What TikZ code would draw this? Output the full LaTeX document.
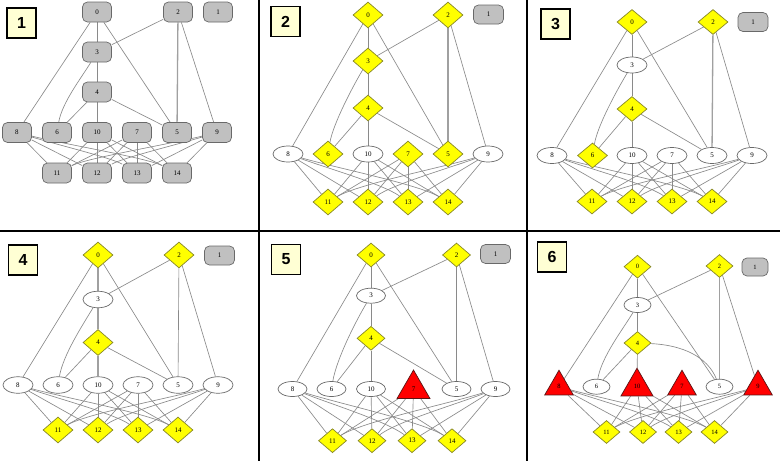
\documentclass[tikz,border=0pt]{standalone}
\usepackage{fontspec}
\setmainfont{Liberation Serif}
\newfontfamily\lsans{Liberation Sans}
\usetikzlibrary{shapes.geometric}
\pgfdeclarelayer{back}
\pgfdeclarelayer{bg}
\pgfsetlayers{back,bg,main}
\definecolor{ngray}{RGB}{192,192,192}
\definecolor{ngrayb}{RGB}{105,105,105}
\definecolor{nyel}{RGB}{255,255,0}
\definecolor{nyelb}{RGB}{135,135,40}
\definecolor{ecol}{RGB}{138,138,138}
\definecolor{ecolt}{RGB}{160,160,160}
\definecolor{lblfill}{RGB}{255,255,212}
\definecolor{nred}{RGB}{255,0,0}
\definecolor{nredb}{RGB}{90,20,20}
\newcommand\gfont{\fontsize{7}{8}\selectfont}
\newcommand\boxfont{\lsans\bfseries\fontsize{16}{18}\selectfont}
\newcommand\gn[5]{\node[#1] (#2-#3) at (#4,#5) {#3};}
\newcommand\gedges[1]{%
\begin{pgfonlayer}{bg}
\draw[edge,e03] (#1-0) -- (#1-3);
\draw[edge] (#1-0) -- (#1-8);
\draw[edge] (#1-0) -- (#1-5);
\draw[edge] (#1-2) -- (#1-3);
\draw[edge,e25] (#1-2) -- (#1-5);
\draw[edge] (#1-2) -- (#1-9);
\draw[edge] (#1-3) .. controls +(-15,25) and +(5,-30) .. (#1-6);
\draw[edge,e03] (#1-3) -- (#1-4);
\draw[edge] (#1-4) -- (#1-6);
\draw[edge,e03] (#1-4) -- (#1-10);
\foreach \t in {11,12,13,14}{%
  \draw[edge] (#1-10) -- (#1-\t);
  \draw[edge] (#1-7) -- (#1-\t);}
\draw[edge] (#1-8) -- (#1-11);
\draw[edge] (#1-8) -- (#1-12);
\draw[edge] (#1-9) -- (#1-13);
\draw[edge] (#1-9) -- (#1-14);
\draw[edge] (#1-8) .. controls +(50,{0.3*\pVG}) and +(-30,{-0.37*\pVG}) .. (#1-14);
\draw[edge] (#1-8) .. controls +(40,{0.3*\pVG}) and +(-25,{-0.37*\pVG}) .. (#1-13);
\draw[edge] (#1-9) .. controls +(-50,{0.3*\pVG}) and +(30,{-0.37*\pVG}) .. (#1-11);
\draw[edge] (#1-9) .. controls +(-40,{0.3*\pVG}) and +(25,{-0.37*\pVG}) .. (#1-12);
\end{pgfonlayer}}
\begin{document}
\begin{tikzpicture}[x=1pt,y=-1pt,
  gnode/.style={rectangle, rounded corners=5, fill=ngray, draw=ngrayb, line width=0.7,
    minimum width=\pGW, minimum height=\pGH, inner sep=0pt, font=\gfont},
  dnode/.style={diamond, fill=nyel, draw=nyelb, line width=0.7,
    minimum width=\pDW, minimum height=\pDH, inner sep=0pt, font=\gfont},
  enode/.style={ellipse, fill=white, draw=ngrayb, line width=0.7,
    minimum width=\pEW, minimum height=\pEH, inner sep=0pt, font=\gfont},
  tnode/.style={regular polygon, regular polygon sides=3, fill=nred, draw=nredb, line width=0.7,
    minimum size=\pTS, inner sep=0pt, font=\gfont},
  lblbox/.style={rectangle, fill=lblfill, draw=black, line width=1.5,
    minimum width=29, minimum height=30, inner sep=0pt, font=\boxfont},
  edge/.style={draw=ecol, line width=0.65},
  thk/.style={draw=ecolt, line width=1.3},
  e25/.style={thk},
  e03/.style={}]
\begin{pgfonlayer}{back}
\fill[white] (0,0) rectangle (780,461);
\end{pgfonlayer}
\useasboundingbox (0,0) rectangle (780,461);
% ---------------- panel 1
\def\pGW{29}\def\pGH{20}\def\pVG{40.5}
\node[lblbox] (a-L) at (21.5,23) {1};
\gn{gnode}{a}{0}{97}{12}
\gn{gnode}{a}{2}{178}{12}
\gn{gnode}{a}{1}{218}{12}
\gn{gnode}{a}{3}{97}{52}
\gn{gnode}{a}{4}{97}{92}
\gn{gnode}{a}{8}{17}{132.5}
\gn{gnode}{a}{6}{57}{132.5}
\gn{gnode}{a}{10}{97}{132.5}
\gn{gnode}{a}{7}{137}{132.5}
\gn{gnode}{a}{5}{177}{132.5}
\gn{gnode}{a}{9}{217}{132.5}
\gn{gnode}{a}{11}{57}{173}
\gn{gnode}{a}{12}{97}{173}
\gn{gnode}{a}{13}{137}{173}
\gn{gnode}{a}{14}{177}{173}
\gedges{a}
\draw[edge] (a-4) -- (a-5);
% ---------------- panel 2
\def\pGW{30}\def\pGH{19}\def\pDW{30}\def\pDH{26}\def\pEW{30}\def\pEH{16}\def\pVG{48}
\node[lblbox] (b-L) at (285.5,21.5) {2};
\gn{dnode}{b}{0}{368}{15}
\gn{dnode}{b}{2}{448}{15}
\gn{gnode}{b}{1}{488.5}{14.5}
\gn{dnode}{b}{3}{368}{61}
\gn{dnode}{b}{4}{368}{108}
\gn{enode}{b}{8}{288}{154}
\gn{dnode}{b}{6}{328}{154}
\gn{enode}{b}{10}{368}{154}
\gn{dnode}{b}{7}{408}{154}
\gn{dnode}{b}{5}{448}{154}
\gn{enode}{b}{9}{488}{154}
\gn{dnode}{b}{11}{328}{202}
\gn{dnode}{b}{12}{368}{202}
\gn{dnode}{b}{13}{408}{202}
\gn{dnode}{b}{14}{448}{202}
\gedges{b}
\draw[edge] (b-4) -- (b-5);
% ---------------- panel 3
\def\pDH{25}\def\pVG{46}
\node[lblbox] (c-L) at (555.5,24) {3};
\gn{dnode}{c}{0}{632}{22}
\gn{dnode}{c}{2}{713}{22}
\gn{gnode}{c}{1}{753}{22}
\gn{enode}{c}{3}{632}{65}
\gn{dnode}{c}{4}{632}{109}
\gn{enode}{c}{8}{552}{155.5}
\gn{dnode}{c}{6}{592.5}{155.5}
\gn{enode}{c}{10}{632}{155.5}
\gn{enode}{c}{7}{672}{155.5}
\gn{enode}{c}{5}{712}{155.5}
\gn{enode}{c}{9}{752}{155.5}
\gn{dnode}{c}{11}{592}{201.5}
\gn{dnode}{c}{12}{632}{201.5}
\gn{dnode}{c}{13}{672}{201.5}
\gn{dnode}{c}{14}{712}{201.5}
\gedges{c}
\draw[edge] (c-4) -- (c-5);
% ---------------- panel 4
\def\pDH{26}\def\pEH{16.5}\def\pVG{45}
\tikzset{e25/.style={}, e03/.style={thk}}
\node[lblbox] (d-L) at (23,260) {4};
\gn{dnode}{d}{0}{98}{255}
\gn{dnode}{d}{2}{179}{255}
\gn{gnode}{d}{1}{219.5}{255.5}
\gn{enode}{d}{3}{98}{299.5}
\gn{dnode}{d}{4}{98}{342.5}
\gn{enode}{d}{8}{18}{385}
\gn{enode}{d}{6}{58}{385}
\gn{enode}{d}{10}{98}{385}
\gn{enode}{d}{7}{138}{385}
\gn{enode}{d}{5}{178}{385}
\gn{enode}{d}{9}{218}{385}
\gn{dnode}{d}{11}{58}{430}
\gn{dnode}{d}{12}{98}{430}
\gn{dnode}{d}{13}{138}{430}
\gn{dnode}{d}{14}{178}{430}
\gedges{d}
\draw[edge] (d-4) -- (d-5);
% ---------------- panel 5
\def\pDW{28}\def\pDH{24}\def\pEW{29}\def\pEH{15}\def\pTS{38}\def\pVG{51.7}
\tikzset{e25/.style={}, e03/.style={}}
\node[lblbox] (e-L) at (286,259.5) {5};
\gn{dnode}{e}{0}{371}{255}
\gn{dnode}{e}{2}{456.5}{255}
\gn{gnode}{e}{1}{495.5}{254}
\gn{enode}{e}{3}{371}{295.7}
\gn{dnode}{e}{4}{371}{338.3}
\gn{enode}{e}{8}{292.5}{389}
\gn{enode}{e}{6}{331.5}{389}
\gn{enode}{e}{10}{371}{389}
\gn{tnode}{e}{7}{413.5}{389}
\gn{enode}{e}{5}{456.5}{389}
\gn{enode}{e}{9}{495.5}{389}
\gn{dnode}{e}{11}{332.5}{440.7}
\gn{dnode}{e}{12}{372}{440.7}
\gn{dnode}{e}{13}{412}{440.7}
\gn{dnode}{e}{14}{452}{440.7}
\gedges{e}
\draw[edge] (e-4) -- (e-5);
% ---------------- panel 6
\def\pGW{26}\def\pGH{18}\def\pDW{27}\def\pDH{23}\def\pEW{27}\def\pEH{15}\def\pTS{33}\def\pVG{45.3}
\def\gfont{\fontsize{6.5}{7.5}\selectfont}
\tikzset{e25/.style={thk}, e03/.style={}}
\node[lblbox] (f-L) at (552,257) {6};
\gn{dnode}{f}{0}{637.5}{266.7}
\gn{dnode}{f}{2}{719.5}{266}
\gn{gnode}{f}{1}{755}{267}
\gn{enode}{f}{3}{637.5}{305}
\gn{dnode}{f}{4}{637.5}{343}
\gn{tnode}{f}{8}{559}{386.7}
\gn{enode}{f}{6}{596.5}{386.7}
\node[tnode, minimum size=37] (f-10) at (637,386.7) {10};
\gn{tnode}{f}{7}{682}{386.7}
\gn{enode}{f}{5}{719.5}{386.7}
\gn{tnode}{f}{9}{758}{386.7}
\gn{dnode}{f}{11}{606.5}{432}
\gn{dnode}{f}{12}{643}{432}
\gn{dnode}{f}{13}{678.5}{432}
\gn{dnode}{f}{14}{714.5}{432}
\gedges{f}
\begin{pgfonlayer}{bg}
\draw[edge] (f-4) .. controls +(45,2) and +(-12,-30) .. (f-5);
\end{pgfonlayer}
% ---------------- panel borders
\draw[line width=2] (259,0) -- (259,461);
\draw[line width=2] (527,0) -- (527,461);
\draw[line width=2] (0,231) -- (780,231);
\end{tikzpicture}
\end{document}
